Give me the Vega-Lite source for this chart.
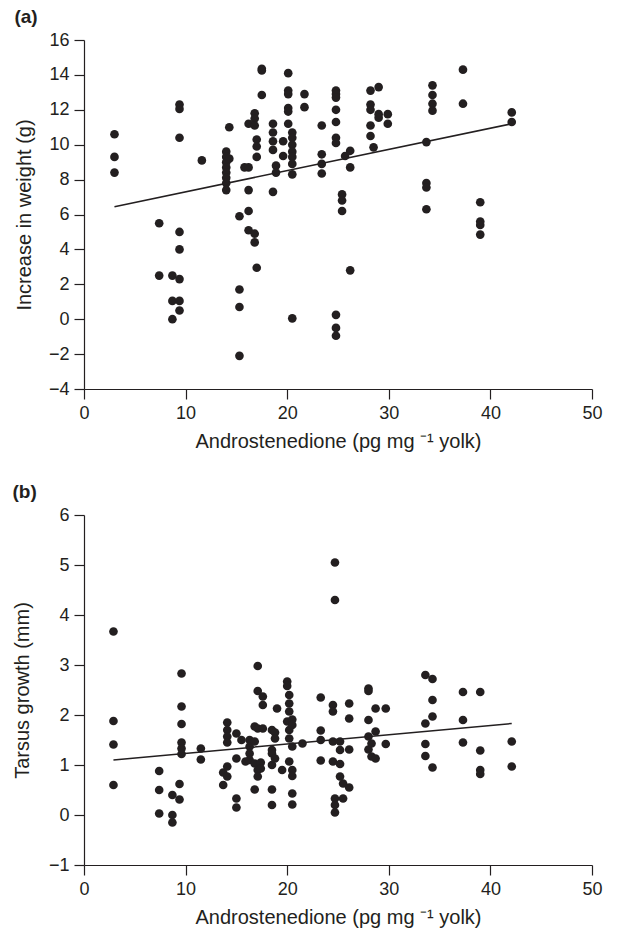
{
  "$schema": "https://vega.github.io/schema/vega-lite/v6.json",
  "padding": {"left": 12, "top": 8, "right": 10, "bottom": 5},
  "config": {
    "font": "Liberation Sans",
    "view": {"stroke": null},
    "axis": {"domainColor": "#231f20", "tickColor": "#231f20", "labelColor": "#231f20", "titleColor": "#231f20", "grid": false, "labelFontSize": 18, "titleFontSize": 20, "titleFontWeight": "normal", "tickSize": 10, "labelPadding": 5, "domainWidth": 1.2, "tickWidth": 1.2, "labelFlush": false, "labelOverlap": false},
    "title": {"fontSize": 19, "fontWeight": "bold", "anchor": "start", "frame": "bounds", "color": "#231f20"}
  },
  "datasets": {
    "weight": [
      {"x": 3, "y": 10.6}, {"x": 3, "y": 9.3}, {"x": 3, "y": 8.4},
      {"x": 7.4, "y": 5.5}, {"x": 7.4, "y": 2.5},
      {"x": 8.7, "y": 2.5}, {"x": 8.7, "y": 1.05}, {"x": 8.7, "y": 0.0},
      {"x": 9.4, "y": 12.3}, {"x": 9.4, "y": 12.05}, {"x": 9.4, "y": 10.4}, {"x": 9.4, "y": 5.0}, {"x": 9.4, "y": 4.0}, {"x": 9.4, "y": 2.3}, {"x": 9.4, "y": 1.05}, {"x": 9.4, "y": 0.5},
      {"x": 11.6, "y": 9.1},
      {"x": 14.0, "y": 9.6}, {"x": 14.0, "y": 9.3}, {"x": 14.0, "y": 9.0}, {"x": 14.0, "y": 8.7}, {"x": 14.0, "y": 8.4}, {"x": 14.0, "y": 8.1}, {"x": 14.0, "y": 7.8}, {"x": 14.0, "y": 7.4},
      {"x": 14.3, "y": 11.0}, {"x": 14.3, "y": 9.2},
      {"x": 15.3, "y": 5.9}, {"x": 15.3, "y": 1.7}, {"x": 15.3, "y": 0.7}, {"x": 15.3, "y": -2.1},
      {"x": 15.8, "y": 8.7},
      {"x": 16.2, "y": 11.2}, {"x": 16.2, "y": 8.7}, {"x": 16.2, "y": 7.4}, {"x": 16.2, "y": 6.2}, {"x": 16.2, "y": 5.1},
      {"x": 16.8, "y": 11.8}, {"x": 16.8, "y": 11.5}, {"x": 16.8, "y": 11.1}, {"x": 16.8, "y": 4.9}, {"x": 16.8, "y": 4.4},
      {"x": 17.0, "y": 10.3}, {"x": 17.0, "y": 9.9}, {"x": 17.0, "y": 9.3}, {"x": 17.0, "y": 2.95},
      {"x": 17.5, "y": 14.35}, {"x": 17.5, "y": 14.25}, {"x": 17.5, "y": 12.85},
      {"x": 18.6, "y": 11.2}, {"x": 18.6, "y": 10.7}, {"x": 18.6, "y": 10.2}, {"x": 18.6, "y": 9.7}, {"x": 18.6, "y": 7.3},
      {"x": 18.9, "y": 8.8}, {"x": 18.9, "y": 8.4},
      {"x": 19.6, "y": 10.2}, {"x": 19.6, "y": 9.35},
      {"x": 20.1, "y": 14.1}, {"x": 20.1, "y": 13.1}, {"x": 20.1, "y": 12.9}, {"x": 20.1, "y": 12.1}, {"x": 20.1, "y": 11.9}, {"x": 20.1, "y": 11.2},
      {"x": 20.5, "y": 10.7}, {"x": 20.5, "y": 10.4}, {"x": 20.5, "y": 10.0}, {"x": 20.5, "y": 9.6}, {"x": 20.5, "y": 9.3}, {"x": 20.5, "y": 8.9}, {"x": 20.5, "y": 8.3}, {"x": 20.5, "y": 0.05},
      {"x": 21.7, "y": 12.9}, {"x": 21.7, "y": 12.15},
      {"x": 23.4, "y": 11.1}, {"x": 23.4, "y": 9.45}, {"x": 23.4, "y": 8.9}, {"x": 23.4, "y": 8.35},
      {"x": 24.8, "y": 13.1}, {"x": 24.8, "y": 12.9}, {"x": 24.8, "y": 12.7}, {"x": 24.8, "y": 12.0}, {"x": 24.8, "y": 11.3}, {"x": 24.8, "y": 10.4}, {"x": 24.8, "y": 10.1}, {"x": 24.8, "y": 0.25}, {"x": 24.8, "y": -0.5}, {"x": 24.8, "y": -0.95},
      {"x": 25.4, "y": 7.15}, {"x": 25.4, "y": 6.8}, {"x": 25.4, "y": 6.2},
      {"x": 25.7, "y": 9.35},
      {"x": 26.2, "y": 9.65}, {"x": 26.2, "y": 8.7}, {"x": 26.2, "y": 2.8},
      {"x": 28.2, "y": 13.1}, {"x": 28.2, "y": 12.3}, {"x": 28.2, "y": 12.0}, {"x": 28.2, "y": 11.1}, {"x": 28.2, "y": 10.5},
      {"x": 28.5, "y": 9.85},
      {"x": 29.0, "y": 13.3}, {"x": 29.0, "y": 11.75}, {"x": 29.0, "y": 11.55},
      {"x": 29.9, "y": 11.75}, {"x": 29.9, "y": 11.2},
      {"x": 33.7, "y": 10.15}, {"x": 33.7, "y": 7.8}, {"x": 33.7, "y": 7.55}, {"x": 33.7, "y": 6.3},
      {"x": 34.3, "y": 13.4}, {"x": 34.3, "y": 12.85}, {"x": 34.3, "y": 12.35}, {"x": 34.3, "y": 11.95},
      {"x": 37.3, "y": 14.3}, {"x": 37.3, "y": 12.35},
      {"x": 39.0, "y": 6.7}, {"x": 39.0, "y": 5.6}, {"x": 39.0, "y": 5.4}, {"x": 39.0, "y": 4.85},
      {"x": 42.1, "y": 11.85}, {"x": 42.1, "y": 11.3}
    ],
    "weightFit": [{"x": 3, "y": 6.45}, {"x": 42.1, "y": 11.2}],
    "tarsus": [
      {"x": 2.9, "y": 3.67}, {"x": 2.9, "y": 1.88}, {"x": 2.9, "y": 1.41}, {"x": 2.9, "y": 0.6},
      {"x": 7.4, "y": 0.88}, {"x": 7.4, "y": 0.5}, {"x": 7.4, "y": 0.03},
      {"x": 8.7, "y": 0.4}, {"x": 8.7, "y": 0.0}, {"x": 8.7, "y": -0.15},
      {"x": 9.4, "y": 0.62}, {"x": 9.4, "y": 0.31},
      {"x": 9.6, "y": 2.83}, {"x": 9.6, "y": 2.17}, {"x": 9.6, "y": 1.82}, {"x": 9.6, "y": 1.45}, {"x": 9.6, "y": 1.33}, {"x": 9.6, "y": 1.22},
      {"x": 11.5, "y": 1.33}, {"x": 11.5, "y": 1.11},
      {"x": 13.7, "y": 0.85}, {"x": 13.7, "y": 0.6},
      {"x": 14.1, "y": 1.85}, {"x": 14.1, "y": 1.7}, {"x": 14.1, "y": 1.57}, {"x": 14.1, "y": 1.45}, {"x": 14.1, "y": 0.97}, {"x": 14.1, "y": 0.77},
      {"x": 15.0, "y": 1.63}, {"x": 15.0, "y": 1.13}, {"x": 15.0, "y": 0.33}, {"x": 15.0, "y": 0.15},
      {"x": 15.5, "y": 1.5},
      {"x": 15.9, "y": 1.07},
      {"x": 16.3, "y": 1.5}, {"x": 16.3, "y": 1.37}, {"x": 16.3, "y": 1.23}, {"x": 16.3, "y": 1.1},
      {"x": 16.8, "y": 1.77}, {"x": 16.8, "y": 1.47}, {"x": 16.8, "y": 1.03}, {"x": 16.8, "y": 0.51},
      {"x": 17.1, "y": 2.98}, {"x": 17.1, "y": 2.48}, {"x": 17.1, "y": 1.73}, {"x": 17.1, "y": 0.9}, {"x": 17.1, "y": 0.77},
      {"x": 17.4, "y": 1.05}, {"x": 17.4, "y": 0.93},
      {"x": 17.6, "y": 2.37}, {"x": 17.6, "y": 2.2}, {"x": 17.6, "y": 1.73},
      {"x": 18.5, "y": 1.7}, {"x": 18.5, "y": 1.3}, {"x": 18.5, "y": 1.23}, {"x": 18.5, "y": 1.0}, {"x": 18.5, "y": 0.51}, {"x": 18.5, "y": 0.2},
      {"x": 18.8, "y": 1.65}, {"x": 18.8, "y": 1.53}, {"x": 18.8, "y": 1.13},
      {"x": 19.0, "y": 2.13},
      {"x": 19.5, "y": 0.9},
      {"x": 20.0, "y": 2.67}, {"x": 20.0, "y": 2.58}, {"x": 20.0, "y": 1.87},
      {"x": 20.2, "y": 2.4}, {"x": 20.2, "y": 2.23}, {"x": 20.2, "y": 2.07}, {"x": 20.2, "y": 1.7}, {"x": 20.2, "y": 1.53}, {"x": 20.2, "y": 1.07},
      {"x": 20.5, "y": 1.91}, {"x": 20.5, "y": 1.8}, {"x": 20.5, "y": 1.37}, {"x": 20.5, "y": 0.9}, {"x": 20.5, "y": 0.78}, {"x": 20.5, "y": 0.43}, {"x": 20.5, "y": 0.21},
      {"x": 21.5, "y": 1.43},
      {"x": 23.3, "y": 2.35}, {"x": 23.3, "y": 1.69}, {"x": 23.3, "y": 1.5}, {"x": 23.3, "y": 1.09},
      {"x": 24.5, "y": 2.2}, {"x": 24.5, "y": 2.07}, {"x": 24.5, "y": 1.47}, {"x": 24.5, "y": 1.07},
      {"x": 24.7, "y": 5.05}, {"x": 24.7, "y": 4.3}, {"x": 24.7, "y": 0.33}, {"x": 24.7, "y": 0.2}, {"x": 24.7, "y": 0.05},
      {"x": 25.2, "y": 1.47}, {"x": 25.2, "y": 1.3}, {"x": 25.2, "y": 1.02}, {"x": 25.2, "y": 0.77},
      {"x": 25.5, "y": 0.63}, {"x": 25.5, "y": 0.33},
      {"x": 26.1, "y": 2.23}, {"x": 26.1, "y": 1.93}, {"x": 26.1, "y": 1.31}, {"x": 26.1, "y": 0.55},
      {"x": 28.0, "y": 2.53}, {"x": 28.0, "y": 2.48}, {"x": 28.0, "y": 1.9}, {"x": 28.0, "y": 1.57}, {"x": 28.0, "y": 1.31},
      {"x": 28.3, "y": 1.43}, {"x": 28.3, "y": 1.17},
      {"x": 28.7, "y": 2.13}, {"x": 28.7, "y": 1.67}, {"x": 28.7, "y": 1.13},
      {"x": 29.7, "y": 2.13}, {"x": 29.7, "y": 1.42},
      {"x": 33.6, "y": 2.8}, {"x": 33.6, "y": 1.83}, {"x": 33.6, "y": 1.42}, {"x": 33.6, "y": 1.18},
      {"x": 34.3, "y": 2.72}, {"x": 34.3, "y": 2.3}, {"x": 34.3, "y": 1.97}, {"x": 34.3, "y": 0.95},
      {"x": 37.3, "y": 2.46}, {"x": 37.3, "y": 1.9}, {"x": 37.3, "y": 1.45},
      {"x": 39.0, "y": 2.46}, {"x": 39.0, "y": 1.29}, {"x": 39.0, "y": 0.9}, {"x": 39.0, "y": 0.82},
      {"x": 42.1, "y": 1.47}, {"x": 42.1, "y": 0.97}
    ],
    "tarsusFit": [{"x": 2.9, "y": 1.1}, {"x": 42.1, "y": 1.83}]
  },
  "spacing": 32,
  "vconcat": [
    {
      "title": {"text": "(a)"},
      "width": 508,
      "height": 349,
      "encoding": {
        "x": {"field": "x", "type": "quantitative", "scale": {"domain": [0, 50], "nice": false}, "axis": {"values": [0, 10, 20, 30, 40, 50], "labelOverlap": false, "title": "Androstenedione (pg mg ⁻¹ yolk)", "titlePadding": 9}},
        "y": {"field": "y", "type": "quantitative", "scale": {"domain": [-4, 16], "nice": false, "zero": false}, "axis": {"values": [-4, -2, 0, 2, 4, 6, 8, 10, 12, 14, 16], "labelOverlap": false, "tickCount": 11, "title": "Increase in weight (g)", "titlePadding": 14}}
      },
      "layer": [
        {
          "data": {"name": "weight"},
          "mark": {"type": "circle", "size": 75, "opacity": 1, "color": "#231f20"}
        },
        {
          "data": {"name": "weightFit"},
          "mark": {"type": "line", "color": "#231f20", "strokeWidth": 1.5}
        }
      ]
    },
    {
      "title": {"text": "(b)"},
      "width": 508,
      "height": 350,
      "encoding": {
        "x": {"field": "x", "type": "quantitative", "scale": {"domain": [0, 50], "nice": false}, "axis": {"values": [0, 10, 20, 30, 40, 50], "labelOverlap": false, "title": "Androstenedione (pg mg ⁻¹ yolk)", "titlePadding": 9}},
        "y": {"field": "y", "type": "quantitative", "scale": {"domain": [-1, 6], "nice": false, "zero": false}, "axis": {"values": [-1, 0, 1, 2, 3, 4, 5, 6], "labelOverlap": false, "title": "Tarsus growth (mm)", "titlePadding": 16}}
      },
      "layer": [
        {
          "data": {"name": "tarsus"},
          "mark": {"type": "circle", "size": 75, "opacity": 1, "color": "#231f20"}
        },
        {
          "data": {"name": "tarsusFit"},
          "mark": {"type": "line", "color": "#231f20", "strokeWidth": 1.5}
        }
      ]
    }
  ]
}
